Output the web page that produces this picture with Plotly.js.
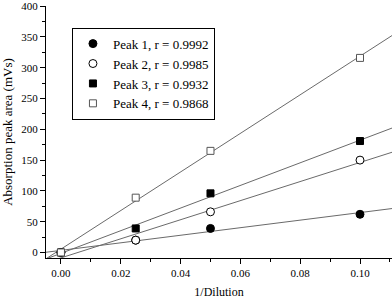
<!DOCTYPE html>
<html><head><meta charset="utf-8">
<script src="https://cdn.plot.ly/plotly-3.0.1.min.js"></script>
<style>html,body{margin:0;padding:0;background:#fff}#c{width:392px;height:299px}</style>
</head><body><div id="c"></div>
<script>
const dilution = [0, 0.025, 0.05, 0.1];
const peak1 = [0, 20, 39, 62];
const peak2 = [0, 20, 66, 150];
const peak3 = [0, 39, 96, 181];
const peak4 = [0, 89, 165, 316];
const names = ["Peak 1, r = 0.9992", "Peak 2, r = 0.9985", "Peak 3, r = 0.9932", "Peak 4, r = 0.9868"];
const xTickVals = [0, 0.02, 0.04, 0.06, 0.08, 0.10];
const xTickText = ["0.00", "0.02", "0.04", "0.06", "0.08", "0.10"];
const yTickVals = [0, 50, 100, 150, 200, 250, 300, 350, 400];

function fit(x, y) {
  const n = x.length;
  const mx = x.reduce((a, b) => a + b, 0) / n;
  const my = y.reduce((a, b) => a + b, 0) / n;
  let sxy = 0, sxx = 0;
  for (let i = 0; i < n; i++) { sxy += (x[i] - mx) * (y[i] - my); sxx += (x[i] - mx) ** 2; }
  const m = sxy / sxx;
  return [m, my - m * mx];
}
const xr = [-0.005, 0.1107];
const series = [peak1, peak2, peak3, peak4];
const traces = [];
series.forEach(s => {
  const [m, b] = fit(dilution, s);
  traces.push({x: xr, y: xr.map(v => m * v + b), mode: 'lines', line: {color: '#6a6a6a', width: 1}, showlegend: false, hoverinfo: 'skip'});
});
const styles = [
  {symbol: 'circle', color: '#000', size: 8},
  {symbol: 'circle', color: '#fff', size: 8},
  {symbol: 'square', color: '#000', size: 7},
  {symbol: 'square', color: '#fff', size: 7}
];
series.forEach((s, i) => {
  traces.push({x: dilution, y: s, mode: 'markers', name: names[i],
    marker: {symbol: styles[i].symbol, color: styles[i].color, size: styles[i].size, line: {color: i === 3 ? '#555' : '#000', width: 1}}});
});
const font = {family: 'Liberation Serif, Times New Roman, serif', color: '#000'};
const layout = {
  width: 392, height: 299,
  margin: {l: 46, r: 0, t: 6, b: 41},
  paper_bgcolor: '#fff', plot_bgcolor: '#fff',
  font: Object.assign({size: 11}, font),
  showlegend: true,
  legend: {x: 0.075, y: 0.914, xanchor: 'left', yanchor: 'top', bordercolor: '#000', borderwidth: 1,
    font: Object.assign({size: 13}, font), bgcolor: '#fff', tracegroupgap: 0},
  xaxis: {range: xr, showline: true, linecolor: '#000', linewidth: 1, showgrid: false, zeroline: false,
    ticks: 'outside', ticklen: 5, tickcolor: '#000', tickvals: xTickVals, ticktext: xTickText,
    minor: {tickvals: [0.01, 0.03, 0.05, 0.07, 0.09, 0.11], ticks: 'outside', ticklen: 3, tickcolor: '#000', showgrid: false},
    tickfont: Object.assign({size: 11}, font),
    title: {text: '1/Dilution', font: Object.assign({size: 12}, font), standoff: 10}},
  yaxis: {range: [-9, 400.3], showline: true, linecolor: '#000', linewidth: 1, showgrid: false, zeroline: false,
    ticks: 'outside', ticklen: 5, tickcolor: '#000', tickvals: yTickVals, ticktext: yTickVals.map(String),
    ticklabeloverflow: 'allow',
    minor: {dtick: 25, tick0: 0, ticks: 'outside', ticklen: 3, tickcolor: '#000', showgrid: false},
    tickfont: Object.assign({size: 11}, font),
    title: {text: 'Absorption peak area (mVs)', font: Object.assign({size: 13}, font), standoff: 5}}
};
Plotly.newPlot('c', traces, layout, {displayModeBar: false, staticPlot: true});
</script></body></html>
